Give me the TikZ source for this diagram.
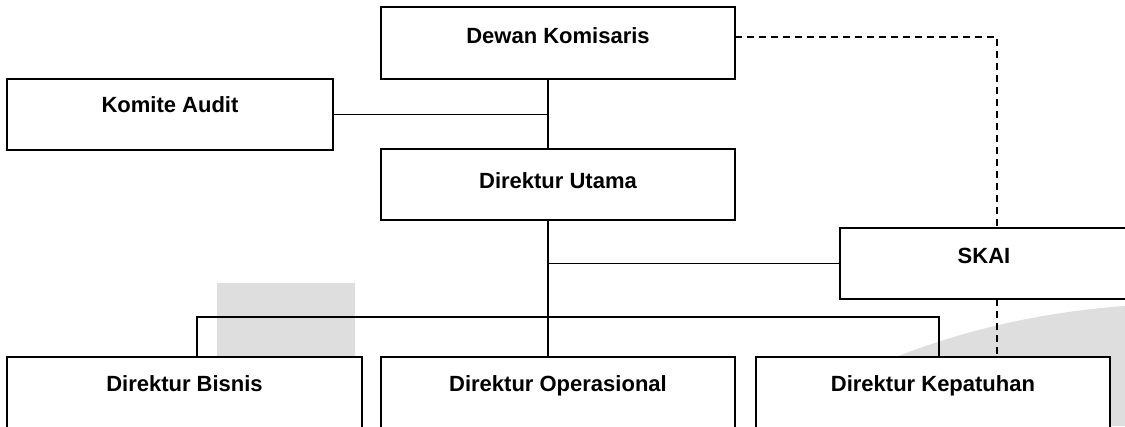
\documentclass[tikz,border=0pt]{standalone}
\usepackage{fontspec}
\setmainfont{Liberation Sans}
\begin{document}
\begin{tikzpicture}[x=1pt,y=-1pt,
  box/.style={draw, line width=1.6pt, fill=white, inner sep=0pt, outer sep=0pt, anchor=north west},
  lbl/.style={font=\fontsize{22}{26}\selectfont\bfseries, anchor=base, inner sep=0pt},
  conn/.style={line width=1.6pt},
  dconn/.style={line width=1.6pt, dash pattern=on 7pt off 5pt},
  wm/.style={fill=black!13}]
\clip (0,0) rectangle (1125,426);
% watermark
\fill[wm] (217,283) rectangle (355,357);
\fill[wm] (870,368) .. controls (950,332) and (1040,312) .. (1125,306) -- (1125,426) -- (870,426) -- cycle;
% boxes
\node[box, minimum width=354pt, minimum height=72pt] (dewan) at (381,7) {};
\node[box, minimum width=326pt, minimum height=71pt] (komite) at (7,79) {};
\node[box, minimum width=354pt, minimum height=71pt] (utama) at (381,149) {};
\node[box, minimum width=290pt, minimum height=71pt] (skai) at (840,228) {};
\node[box, minimum width=355pt, minimum height=90pt] (bisnis) at (7,357) {};
\node[box, minimum width=354pt, minimum height=90pt] (oper) at (381,357) {};
\node[box, minimum width=354pt, minimum height=90pt] (kep) at (756,357) {};
% labels
\node[lbl] (dewan-t) at (558,43) {Dewan Komisaris};
\node[lbl] (komite-t) at (170,112) {Komite Audit};
\node[lbl] (utama-t) at (558,188) {Direktur Utama};
\node[lbl] (skai-t) at (984,263) {SKAI};
\node[lbl] (bisnis-t) at (184.5,391) {Direktur Bisnis};
\node[lbl] (oper-t) at (558,391) {Direktur Operasional};
\node[lbl] (kep-t) at (933,391) {Direktur Kepatuhan};
% helper coordinates
\coordinate (spine) at (548,0);
\coordinate (busL) at (197,317);
\coordinate (busR) at (939,317);
\coordinate (dk) at (997,37);
% connectors
\draw[conn] (dewan.south -| spine) -- (utama.north -| spine);
\draw[conn] (komite.east) -- (komite.east -| spine);
\draw[conn] (utama.south -| spine) -- (oper.north -| spine);
\draw[conn] (skai.west -| spine) -- (skai.west);
\draw[conn] (bisnis.north -| busL) -- (busL) -- (busR) -- (kep.north -| busR);
\draw[dconn] (dk -| dewan.east) -- (dk) -- (skai.north -| dk);
\draw[dconn] (skai.south -| dk) -- (kep.north -| dk);
\end{tikzpicture}
\end{document}
